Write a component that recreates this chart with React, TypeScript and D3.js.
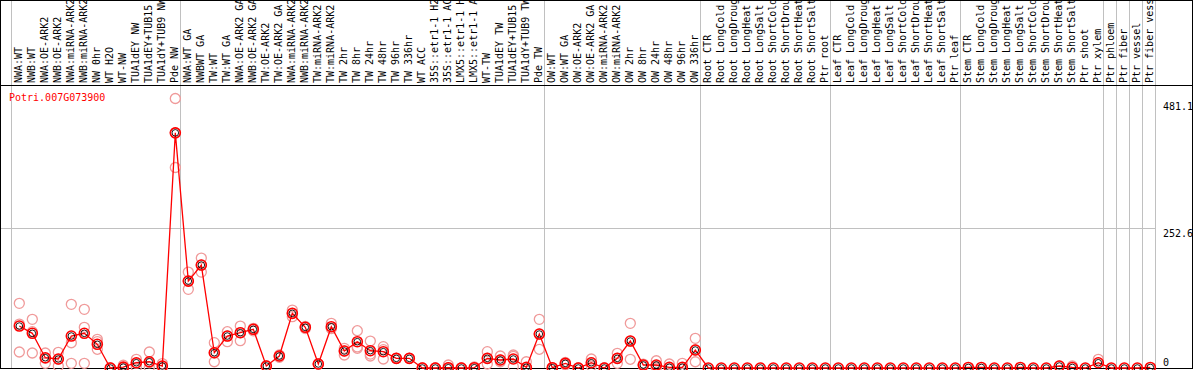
import React from 'react';
import * as d3 from 'd3';

const GENE = 'Potri.007G073900';

const LABELS = [
  'NWA:WT', 'NWB:WT', 'NWA:OE-ARK2', 'NWB:OE-ARK2', 'NWA:miRNA-ARK2', 'NWB:miRNA-ARK2', 'NW 0hr', 'WT H2O', 'WT-NW',
  'TUA1dEY NW', 'TUA1dEY+TUB15', 'TUA1dY+TUB9 NW', 'Pde NW',
  'NWA:WT GA', 'NWBWT GA', 'TW:WT', 'TW:WT GA', 'NWA:OE-ARK2 GA', 'NWB:OE-ARK2 GA', 'TW:OE-ARK2', 'TW:OE-ARK2 GA',
  'NWA:miRNA-ARK2', 'NWB:miRNA-ARK2', 'TW:miRNA-ARK2', 'TW:miRNA-ARK2', 'TW 2hr', 'TW 8hr', 'TW 24hr', 'TW 48hr',
  'TW 96hr', 'TW 336hr', 'WT ACC', '35S::etr1-1 H2O', '35S::etr1-1 ACC', 'LMX5::etr1-1 H2O', 'LMX5::etr1-1 ACC',
  'WT-TW', 'TUA1dEY TW', 'TUA1dEY+TUB15', 'TUA1dY+TUB9 TW', 'Pde TW',
  'OW:WT', 'OW:WT GA', 'OW:OE-ARK2', 'OW:OE-ARK2 GA', 'OW:miRNA-ARK2', 'OW:miRNA-ARK2', 'OW 2hr', 'OW 8hr',
  'OW 24hr', 'OW 48hr', 'OW 96hr', 'OW 336hr',
  'Root CTR', 'Root LongCold', 'Root LongDrought', 'Root LongHeat', 'Root LongSalt', 'Root ShortCold',
  'Root ShortDrought', 'Root ShortHeat', 'Root ShortSalt', 'Ptr root',
  'Leaf CTR', 'Leaf LongCold', 'Leaf LongDrought', 'Leaf LongHeat', 'Leaf LongSalt', 'Leaf ShortCold',
  'Leaf ShortDrought', 'Leaf ShortHeat', 'Leaf ShortSalt', 'Ptr leaf',
  'Stem CTR', 'Stem LongCold', 'Stem LongDrought', 'Stem LongHeat', 'Stem LongSalt', 'Stem ShortCold',
  'Stem ShortDrought', 'Stem ShortHeat', 'Stem ShortSalt', 'Ptr shoot', 'Ptr xylem',
  'Ptr phloem', 'Ptr fiber', 'Ptr vessel', 'Ptr fiber vessel',
];

// group boundaries (column index where a new group starts)
const GROUP_BREAKS = [0, 13, 41, 53, 63, 73, 84, 85, 86, 87, 88];

const MEANS = [
  75.6, 62.5, 18.5, 16.2, 57.6, 62.5, 42.7, 0, 1.5, 9.5, 11.3, 3.6, 423.7,
  156.6, 185.5, 27.5, 57.6, 63.6, 69.7, 3.6, 21.6, 98.5, 73.3, 7.2, 74.4, 30.6, 47.4, 31.2, 29.4,
  17.4, 17.4, 0, 0, 0.5, 0, 0.5, 17.4, 14.4, 16.2, 1.3, 61.2,
  0.5, 8.4, 0, 9.5, 0, 17.4, 48.6, 5.4, 5.4, 1.3, 1.3, 32.4,
  0, 0, 0, 0, 0, 0, 0, 0, 0, 0,
  0, 0, 0, 0, 0, 0, 0, 0, 0, 0,
  1, 1, 0, 0, 1, 0, 0, 3.6, 1, 0, 9.5,
  0, 0, 0, 1,
];

const REPLICATES: number[][] = [
  [116.5, 79.2, 28.8], [87.7, 65.4, 27], [27, 17.4, 8.4], [28.3, 15.7, 3.6], [114.7, 45.5, 8.4],
  [105.7, 73.3, 8.4], [51.7, 47.4, 33.7], [0, 0, 0], [5, 0, 0], [15.7, 8.4, 1.3], [28.8, 9.5, 1.3],
  [8, 3, 0], [485.6, 423.7, 361.3],
  [172.8, 156.6, 141.7], [198, 185.5, 172.8], [45.6, 27, 11.3], [65.4, 57.6, 47.4], [75.6, 63.6, 49.2],
  [71.5, 69.7, 67], [3.6, 3.6, 3.6], [23.4, 21.6, 19.3], [104.4, 98.5, 92.4], [75, 73.3, 71],
  [7.2, 7.2, 7.2], [80.5, 71.5, 71], [35.5, 30.6, 23.4], [67.2, 38, 35.5], [48.6, 25, 21.6],
  [38.4, 33, 16.2], [17.4, 17.4, 17.4], [17.4, 17.4, 17.4], [0, 0, 0], [0, 0, 0], [5.4, 0, 0],
  [0, 0, 0], [2, 0, 0], [29.4, 17.4, 7.2], [21.6, 14.4, 11.3], [23.4, 21, 2.4], [11.3, 0, 0],
  [87.7, 61.2, 33.7],
  [0, 0, 0], [10, 8, 6], [0, 0, 0], [16.2, 9.5, 3.6], [0, 0, 0], [26.5, 17.4, 8.4], [80.5, 48.6, 15.7],
  [7, 5.4, 4], [13.1, 3, 0], [7.2, 0, 0], [8.4, 0, 0], [53.5, 32.4, 11.3],
  [], [], [], [], [], [], [], [], [], [],
  [], [], [], [], [], [], [], [], [], [],
  [], [], [], [], [], [], [], [3.6], [3.6], [], [15.7],
  [], [], [], [],
];

const Y_TICKS = [0, 252.6, 481.1];

const W = 1194;
const H = 370;
const HEADER = 85.5;
const RIGHT_EDGE = 1192.5;
const FONT = '"DejaVu Sans Mono", monospace';

export default function App() {
  const x = d3.scaleLinear().domain([0, LABELS.length]).range([11, 1155]);
  const y = d3.scaleLinear().domain([0, 481.1]).range([368, 101]);
  const px = (i: number) => x(i + 0.64);

  const line = d3.line<number>()
    .x((_, i) => px(i))
    .y(d => y(d));

  return (
    <>
      <style>{'body{margin:0}'}</style>
      <svg width={W} height={H} style={{ display: 'block', background: '#fff' }}>
        <defs>
          <clipPath id="hdr">
            <rect x={0} y={1} width={W} height={HEADER - 1} />
          </clipPath>
        </defs>

        {/* group separators */}
        {GROUP_BREAKS.map(b => (
          <line key={b} x1={Math.round(x(b)) + 0.5} x2={Math.round(x(b)) + 0.5} y1={0} y2={369}
            stroke="#c0c0c0" strokeWidth={1} shapeRendering="crispEdges" />
        ))}

        {/* middle gridline */}
        <line x1={0} x2={x(LABELS.length)} y1={Math.round(y(252.6)) + 0.5} y2={Math.round(y(252.6)) + 0.5}
          stroke="#c0c0c0" strokeWidth={1} shapeRendering="crispEdges" />

        {/* column labels */}
        <g clipPath="url(#hdr)" fontFamily={FONT} fontSize={10} fill="#000">
          {LABELS.map((lab, i) => (
            <text key={i} transform={`translate(${x(i + 0.58)},83) rotate(-90)`} dy="0.35em">{lab}</text>
          ))}
        </g>

        {/* frame */}
        <line x1={0} x2={RIGHT_EDGE} y1={0.5} y2={0.5} stroke="#000" shapeRendering="crispEdges" />
        <line x1={0} x2={RIGHT_EDGE} y1={HEADER} y2={HEADER} stroke="#000" shapeRendering="crispEdges" />
        <line x1={0} x2={RIGHT_EDGE} y1={368.5} y2={368.5} stroke="#000" shapeRendering="crispEdges" />
        <line x1={0.5} x2={0.5} y1={0} y2={369} stroke="#000" shapeRendering="crispEdges" />
        <line x1={RIGHT_EDGE} x2={RIGHT_EDGE} y1={0} y2={369} stroke="#000" shapeRendering="crispEdges" />

        {/* gene name */}
        <text x={9} y={97.5} dy="0.35em" fontFamily={FONT} fontSize={10} fill="#ff0000">{GENE}</text>

        {/* right axis labels */}
        <g fontFamily={FONT} fontSize={10} fill="#000">
          {Y_TICKS.map(t => (
            <text key={t} x={1163} y={y(t) + (t === 0 ? -6 : 5.5)} dy="0.35em">{t}</text>
          ))}
        </g>

        {/* replicates */}
        <g fill="none" stroke="#f09a9a" strokeWidth={1.3}>
          {REPLICATES.map((reps, i) => reps.map((v, j) => (
            <circle key={`${i}-${j}`} cx={px(i)} cy={y(v)} r={5} />
          )))}
        </g>

        {/* mean line */}
        <path d={line(MEANS) || ''} fill="none" stroke="#ff0000" strokeWidth={1.3} />

        {/* mean markers */}
        <g fill="none">
          {MEANS.map((v, i) => (
            <g key={i}>
              <circle cx={px(i)} cy={y(v)} r={5} stroke="#ff0000" strokeWidth={1.6} />
              <circle cx={px(i)} cy={y(v)} r={3.3} stroke="#000" strokeWidth={0.9} />
            </g>
          ))}
        </g>
      </svg>
    </>
  );
}
